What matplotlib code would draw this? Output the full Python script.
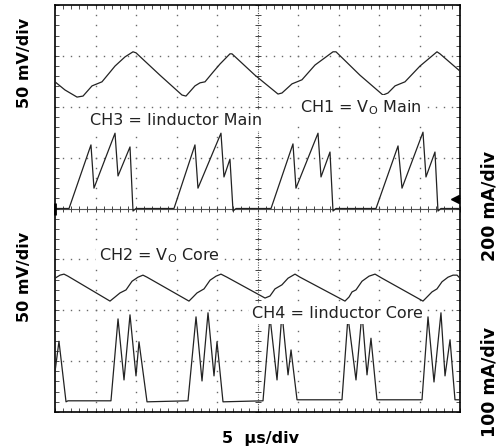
import matplotlib
matplotlib.use('Agg')
import matplotlib.pyplot as plt
from matplotlib.ticker import MultipleLocator
import numpy as np

plt.rcParams['font.family'] = ['DejaVu Sans']
plt.rcParams['mathtext.fontset'] = 'dejavusans'

# ---------------- data (time in µs, traces in screen divisions) ----------------
ch1_t = [0, 1.23, 2.72, 3.46, 4.57, 5.19, 5.80, 6.79, 7.41, 8.64, 9.63, 10.0, 12.96, 15.68,
         16.17, 17.28, 17.90, 18.52, 19.51, 20.37, 21.60, 21.85, 24.69, 27.53, 28.02, 29.26,
         29.88, 30.49, 32.10, 34.32, 34.69, 37.65, 40.49, 41.11, 41.98, 42.59, 43.21, 45.06,
         47.16, 47.53, 50]
ch1_v = [2.49, 2.33, 2.19, 2.21, 2.41, 2.45, 2.49, 2.68, 2.80, 2.98, 3.08, 3.06, 2.62, 2.23,
         2.21, 2.41, 2.47, 2.49, 2.68, 2.84, 3.04, 3.04, 2.62, 2.25, 2.27, 2.45, 2.49, 2.53,
         2.82, 3.08, 3.08, 2.62, 2.23, 2.27, 2.41, 2.45, 2.49, 2.80, 3.08, 3.04, 2.70]

ch3_t = [0, 1.73, 4.44, 4.81, 7.41, 7.78, 9.26, 9.63, 10.0, 14.69, 17.28, 17.65, 20.49, 20.86,
         21.60, 21.98, 22.35, 26.67, 29.38, 29.75, 32.47, 32.84, 33.95, 34.32, 34.69, 39.63,
         42.35, 42.84, 45.43, 45.80, 46.91, 47.28, 47.65, 50]
ch3_v = [0, 0, 1.25, 0.40, 1.48, 0.64, 1.21, -0.05, 0, 0, 1.25, 0.40, 1.48, 0.62, 0.97, -0.05,
         0, 0, 1.27, 0.40, 1.48, 0.62, 1.11, -0.05, 0, 0, 1.23, 0.40, 1.50, 0.62, 1.11, -0.05,
         0, 0]

ch2_t = [0, 0.62, 1.11, 1.60, 6.79, 7.41, 8.02, 8.77, 9.51, 10.25, 10.86, 11.36, 16.54, 17.04,
         17.53, 18.40, 19.14, 19.88, 20.49, 21.23, 25.93, 26.54, 27.16, 28.02, 28.77, 29.63,
         30.25, 35.80, 36.30, 36.67, 37.16, 37.90, 38.77, 39.51, 40.37, 45.43, 46.05, 46.54,
         47.16, 47.78, 48.52, 49.14, 49.63, 50]
ch2_v = [-1.37, -1.31, -1.29, -1.33, -1.82, -1.74, -1.66, -1.60, -1.43, -1.35, -1.31, -1.35,
         -1.82, -1.74, -1.66, -1.58, -1.41, -1.33, -1.29, -1.35, -1.76, -1.72, -1.58, -1.50,
         -1.37, -1.29, -1.35, -1.82, -1.74, -1.64, -1.60, -1.43, -1.33, -1.29, -1.37, -1.82,
         -1.72, -1.64, -1.58, -1.44, -1.35, -1.31, -1.31, -1.37]

ch4_t = [0, 0.49, 1.36, 1.60, 6.91, 7.78, 8.52, 9.26, 10.0, 10.37, 11.36, 16.42, 17.41, 18.15,
         18.89, 19.63, 20.0, 20.74, 25.68, 26.54, 27.41, 28.02, 28.77, 29.14, 29.88, 35.43,
         36.17, 37.16, 37.90, 38.52, 39.01, 39.75, 45.31, 46.05, 46.79, 47.65, 48.15, 48.77,
         49.38, 50]
ch4_v = [-3.21, -2.61, -3.80, -3.78, -3.78, -2.17, -3.37, -2.09, -3.29, -2.62, -3.80, -3.78,
         -2.13, -3.39, -2.05, -3.29, -2.62, -3.80, -3.78, -2.13, -3.37, -2.05, -3.27, -2.78,
         -3.76, -3.76, -2.13, -3.37, -2.05, -3.27, -2.55, -3.76, -3.76, -2.13, -3.41, -2.05,
         -3.29, -2.58, -3.76, -3.76]

labels = ["CH3 = Iinductor Main", r"CH1 = V$_\mathrm{O}$ Main",
          r"CH2 = V$_\mathrm{O}$ Core", "CH4 = Iinductor Core"]
label_t = [4.32, 30.25, 5.43, 24.32]
label_v = [1.64, 1.90, -1.01, -2.16]

left_scales = ["50 mV/div", "50 mV/div"]
right_scales = ["200 mA/div", "100 mA/div"]
time_scale = "5  µs/div"

# ---------------- figure ----------------
W, H = 500, 446
fig = plt.figure(figsize=(W / 100, H / 100), dpi=100)
ax = fig.add_axes([55 / W, 1 - 412 / H, 405 / W, 407 / H])
ax.set_xlim(0, 50)
ax.set_ylim(-4, 4)

minor_x = np.arange(0, 50.001, 1.0)
minor_y = np.arange(-4, 4.001, 0.2)
grid_c = '#6a6a6a'
for gx in np.arange(5, 50, 5):
    if gx == 25:
        continue
    ax.plot(np.full_like(minor_y, gx), minor_y, ls='none', marker='s', ms=1.0,
            mew=0, color=grid_c, zorder=1)
for gy in np.arange(-3, 4, 1):
    if gy == 0:
        continue
    ax.plot(minor_x, np.full_like(minor_x, gy), ls='none', marker='s', ms=1.0,
            mew=0, color=grid_c, zorder=1)

# centre crosshair
ax.axvline(25, color='#555555', lw=0.8, ls=(0, (1, 1.2)), zorder=1)
ax.axhline(0, color='#555555', lw=0.8, zorder=1)
ax.plot(minor_x, np.zeros_like(minor_x), ls='none', marker='|', ms=5, mew=0.7,
        color='#444444', zorder=1)
ax.plot(np.full_like(minor_y, 25), minor_y, ls='none', marker='_', ms=5, mew=0.7,
        color='#444444', zorder=1)

# frame ticks
ax.xaxis.set_major_locator(MultipleLocator(5))
ax.xaxis.set_minor_locator(MultipleLocator(1))
ax.yaxis.set_major_locator(MultipleLocator(1))
ax.yaxis.set_minor_locator(MultipleLocator(0.2))
ax.tick_params(which='both', direction='in', top=True, right=True, bottom=True, left=True,
               labelbottom=False, labelleft=False, length=3, width=0.6, color='#333333')
for s in ax.spines.values():
    s.set_linewidth(1.2)
    s.set_color('black')

# traces
trace_c = '#222222'
for t, v in [(ch1_t, ch1_v), (ch3_t, ch3_v), (ch2_t, ch2_v), (ch4_t, ch4_v)]:
    ax.plot(t, v, color=trace_c, lw=0.9, zorder=3)

# markers
ax.plot([49.38], [0.19], marker='<', ms=6, color='black', zorder=4)
ax.plot([0], [0], marker='|', ms=8, mew=2, color='black', zorder=4, clip_on=False)

# channel labels
for txt, tx, ty in zip(labels, label_t, label_v):
    ax.text(tx, ty, txt, ha='left', va='baseline', fontsize=11.5, color='#222222',
            bbox=dict(facecolor='white', edgecolor='none', pad=2), zorder=5)

# scale labels
fig.text(25 / W, 1 - 63 / H, left_scales[0], rotation=90, ha='center', va='center',
         fontsize=11.5, fontweight='bold')
fig.text(25 / W, 1 - 277 / H, left_scales[1], rotation=90, ha='center', va='center',
         fontsize=11.5, fontweight='bold')
fig.text(489 / W, 1 - 206 / H, right_scales[0], rotation=90, ha='center', va='center',
         fontsize=12.5, fontweight='bold')
fig.text(489 / W, 1 - 382 / H, right_scales[1], rotation=90, ha='center', va='center',
         fontsize=12.5, fontweight='bold')
fig.text(261 / W, 1 - 443 / H, time_scale, ha='center', va='baseline',
         fontsize=11.5, fontweight='bold')

fig.savefig('out.png', dpi=100)
